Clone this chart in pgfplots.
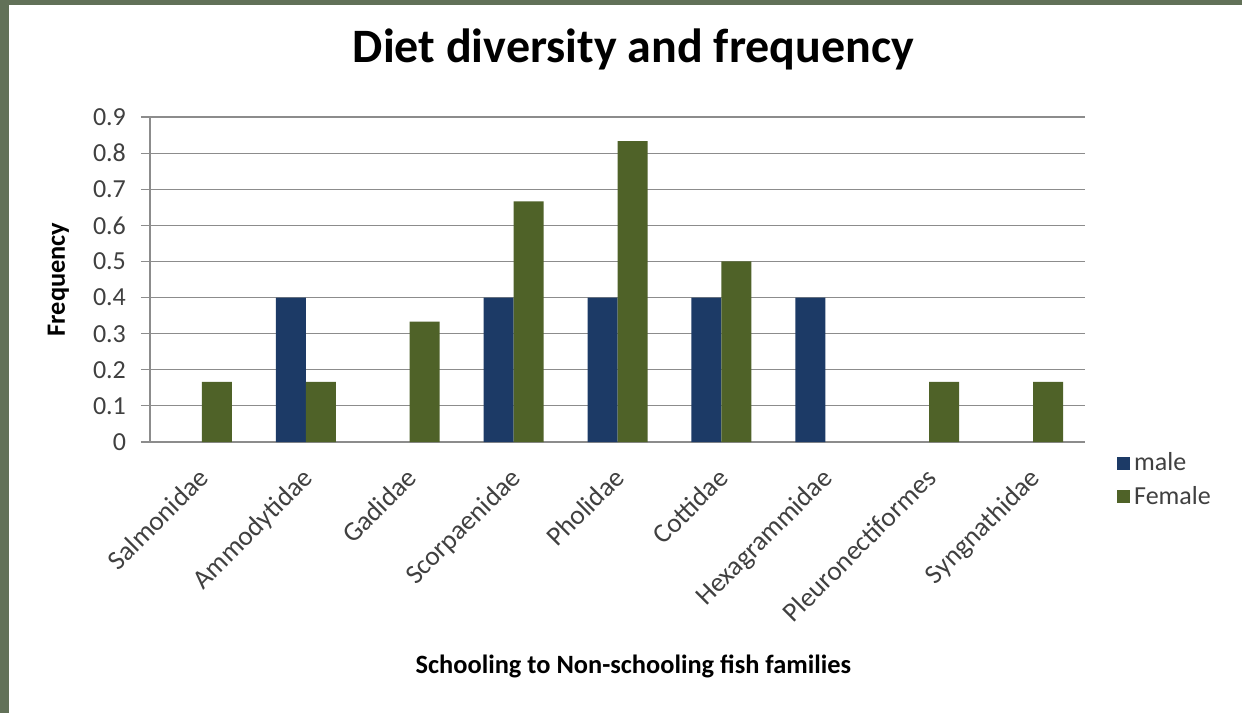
\documentclass[border=0pt]{standalone}
\usepackage{fontspec}
\setmainfont{Carlito}
\usepackage{pgfplots}
\pgfplotsset{compat=1.18}
\definecolor{frame}{HTML}{627158}
\definecolor{male}{HTML}{1C3A66}
\definecolor{female}{HTML}{4F6228}
\definecolor{ticktext}{HTML}{404040}
\definecolor{gridgray}{HTML}{8C8C8C}
\begin{document}
\begin{tikzpicture}[x=1pt,y=1pt]
\fill[frame] (0,0) rectangle (621,356.5);
\fill[white] (4.5,0) rectangle (621,354);
\begin{axis}[
  at={(75pt,135.5pt)}, anchor=south west,
  scale only axis, width=467.5pt, height=162.5pt,
  ybar=0pt, bar width=15pt,
  xmin=-0.5, xmax=8.5, ymin=0, ymax=0.9,
  xtick={0,1,2,3,4,5,6,7,8},
  xticklabels={Salmonidae,Ammodytidae,Gadidae,Scorpaenidae,Pholidae,Cottidae,Hexagrammidae,Pleuronectiformes,Syngnathidae},
  x tick label style={xshift=-2.5pt, rotate=45, anchor=north east, font=\fontsize{13.6}{15}\selectfont, text=ticktext, inner sep=1pt},
  xticklabel shift=6pt,
  xtick style={draw=none},
  xmajorgrids=false,
  ytick={0,0.1,...,0.9},
  yticklabels={0,0.1,0.2,0.3,0.4,0.5,0.6,0.7,0.8,0.9},
  y tick label style={font=\fontsize{13}{15}\selectfont, text=ticktext},
  yticklabel shift=4pt,
  /pgf/number format/assume math mode=true,
  ymajorgrids, grid style={draw=gridgray, line width=0.6pt},
  axis x line*=bottom, axis y line*=left,
  axis line style={draw=gridgray, line width=0.6pt, -},
  tick align=outside, major tick length=4.5pt, ytick style={draw=gridgray, line width=0.6pt},
  ylabel={Frequency},
  ylabel style={at={(axis description cs:-0.098,0.5)}, anchor=center, rotate=0, font=\bfseries\fontsize{13.2}{15}\selectfont},
  xlabel={Schooling to Non-schooling fish families},
  xlabel style={at={(axis description cs:0.517,-0.711)}, anchor=base, font=\bfseries\fontsize{13.2}{15}\selectfont},
  title={Diet diversity and frequency},
  title style={at={(axis description cs:0.517,1.132)}, anchor=base, font=\bfseries\fontsize{24}{28}\selectfont},
  legend style={at={(axis description cs:1.034,-0.02)}, anchor=north west, draw=none, fill=none,
    font=\fontsize{13}{15}\selectfont, text=ticktext, row sep=2pt, inner sep=0pt},
  legend cell align=left,
  legend image code/.code={\fill[#1] (0pt,-3.2pt) rectangle (6.5pt,3.3pt);},
]
\addplot[fill=male, draw=none] coordinates {(1,0.4) (3,0.4) (4,0.4) (5,0.4) (6,0.4)};
\addplot[fill=female, draw=none] coordinates {(0,0.1667) (1,0.1667) (2,0.3333) (3,0.6667) (4,0.8333) (5,0.5) (7,0.1667) (8,0.1667)};
\legend{male,Female}
\end{axis}
\pgfresetboundingbox
\path (0,0) rectangle (621,356.5);
\end{tikzpicture}
\end{document}
